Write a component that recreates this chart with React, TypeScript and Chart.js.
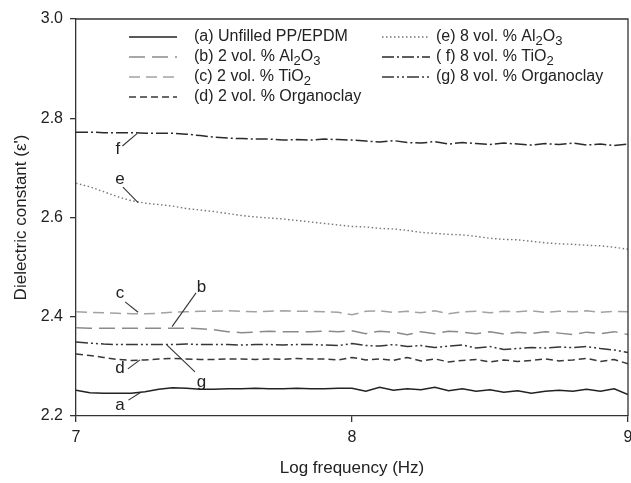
import React, { useEffect, useRef } from "react";
import { Chart, registerables } from "chart.js";

Chart.register(...registerables);

const LOG_FREQ = [
  7.0, 7.05, 7.1, 7.15, 7.2, 7.25, 7.3, 7.35, 7.4, 7.45, 7.5, 7.55, 7.6, 7.65, 7.7, 7.75, 7.8, 7.85, 7.9, 7.95,
  8.0, 8.05, 8.1, 8.15, 8.2, 8.25, 8.3, 8.35, 8.4, 8.45, 8.5, 8.55, 8.6, 8.65, 8.7, 8.75, 8.8, 8.85, 8.9, 8.95, 9.0,
];

const SERIES_A = [
  2.252, 2.247, 2.246, 2.246, 2.246, 2.249, 2.254, 2.257, 2.256, 2.254, 2.254, 2.255, 2.255, 2.256, 2.255, 2.255, 2.256, 2.255, 2.255, 2.256,
  2.256, 2.25, 2.258, 2.252, 2.255, 2.253, 2.258, 2.251, 2.255, 2.25, 2.253, 2.248, 2.251, 2.246, 2.25, 2.252, 2.25, 2.254, 2.25, 2.255, 2.243,
];
const SERIES_B = [
  2.378, 2.377, 2.377, 2.377, 2.377, 2.377, 2.377, 2.377, 2.377, 2.376, 2.374, 2.37, 2.368, 2.369, 2.371, 2.37, 2.37, 2.37, 2.371, 2.37,
  2.372, 2.366, 2.371, 2.369, 2.364, 2.37, 2.366, 2.371, 2.369, 2.366, 2.37, 2.365, 2.369, 2.366, 2.37, 2.367, 2.364, 2.369, 2.366, 2.37, 2.364,
];
const SERIES_C = [
  2.41, 2.409, 2.408, 2.407, 2.406, 2.406, 2.407, 2.409, 2.41, 2.411, 2.411, 2.412, 2.411, 2.41, 2.411, 2.412, 2.411, 2.411, 2.41, 2.409,
  2.404, 2.411, 2.412, 2.409, 2.411, 2.408, 2.412, 2.406, 2.41, 2.411, 2.408, 2.411, 2.41, 2.412, 2.409, 2.411, 2.41, 2.412, 2.409, 2.411, 2.41,
];
const SERIES_D = [
  2.325, 2.322, 2.318, 2.314, 2.312, 2.313, 2.315, 2.316, 2.315, 2.314, 2.314, 2.315, 2.315, 2.314, 2.315, 2.314, 2.316, 2.315, 2.315, 2.313,
  2.318, 2.313, 2.315, 2.312, 2.318, 2.311, 2.315, 2.309, 2.312, 2.314, 2.309, 2.313, 2.31, 2.312, 2.315, 2.311, 2.313, 2.316, 2.31, 2.314, 2.305,
];
const SERIES_E = [
  2.669, 2.662, 2.652, 2.642, 2.634, 2.629, 2.626, 2.623, 2.618, 2.615, 2.612, 2.608, 2.604, 2.601, 2.599, 2.597, 2.594, 2.591, 2.588, 2.585,
  2.582, 2.581, 2.578, 2.577, 2.574, 2.57, 2.568, 2.566, 2.565, 2.562, 2.558, 2.556, 2.555, 2.552, 2.549, 2.547, 2.546, 2.544, 2.543, 2.54, 2.536,
];
const SERIES_F = [
  2.772, 2.772, 2.771, 2.771, 2.771, 2.77, 2.77, 2.77, 2.768, 2.765, 2.762, 2.76, 2.759, 2.758, 2.758, 2.756, 2.757, 2.756, 2.758, 2.757,
  2.756, 2.754, 2.752, 2.755, 2.751, 2.75, 2.753, 2.748, 2.751, 2.749, 2.747, 2.75, 2.748, 2.746, 2.749, 2.747, 2.75, 2.746, 2.748, 2.745, 2.748,
];
const SERIES_G = [
  2.349, 2.347, 2.345, 2.344, 2.344, 2.344, 2.344, 2.344, 2.345, 2.344, 2.344, 2.344, 2.343, 2.344, 2.344, 2.343, 2.344, 2.344, 2.343, 2.342,
  2.346, 2.342, 2.341, 2.344, 2.34, 2.342, 2.338, 2.341, 2.343, 2.337, 2.34, 2.334, 2.336, 2.338, 2.337, 2.339, 2.338, 2.34, 2.336, 2.333, 2.328,
];

const LEGEND_LABELS = [
  "(a) Unfilled PP/EPDM",
  "(b) 2 vol. % Al_2O_3",
  "(c) 2 vol. % TiO_2",
  "(d) 2 vol. % Organoclay",
  "(e) 8 vol. % Al_2O_3",
  "( f) 8 vol. % TiO_2",
  "(g) 8 vol. % Organoclay",
];
const CURVE_LETTERS = ["a", "b", "c", "d", "e", "f", "g"];

const X_TICKS = [7, 8, 9];
const Y_TICKS = [2.2, 2.4, 2.6, 2.8, 3.0];

const FONT = '"Liberation Sans", Arial, Helvetica, sans-serif';

const STYLES = [
  { color: "#222222", dash: [] as number[], width: 1.5 },
  { color: "#8a8a8a", dash: [16, 7], width: 1.5 },
  { color: "#a2a2a2", dash: [11, 6], width: 1.5 },
  { color: "#383838", dash: [7, 4], width: 1.5 },
  { color: "#767676", dash: [1.5, 2.5], width: 1.4 },
  { color: "#2a2a2a", dash: [12, 3, 2, 3], width: 1.5 },
  { color: "#363636", dash: [12, 3, 2, 3, 2, 3], width: 1.5 },
];

// annotation placement (data coordinates): label position and leader line
const ANNOTATIONS = [
  { i: 0, tx: 7.159, ty: 2.222, x1: 7.19, y1: 2.232, x2: 7.235, y2: 2.248 },
  { i: 1, tx: 7.455, ty: 2.46, x1: 7.435, y1: 2.448, x2: 7.348, y2: 2.38 },
  { i: 2, tx: 7.159, ty: 2.448, x1: 7.178, y1: 2.43, x2: 7.225, y2: 2.409 },
  { i: 3, tx: 7.159, ty: 2.297, x1: 7.188, y1: 2.295, x2: 7.232, y2: 2.313 },
  { i: 4, tx: 7.159, ty: 2.676, x1: 7.17, y1: 2.661, x2: 7.225, y2: 2.63 },
  { i: 5, tx: 7.152, ty: 2.738, x1: 7.168, y1: 2.744, x2: 7.221, y2: 2.769 },
  { i: 6, tx: 7.455, ty: 2.268, x1: 7.431, y1: 2.289, x2: 7.33, y2: 2.343 },
];

// legend layout in canvas pixels
const LEGEND_POS = [
  { sx: 129, tx: 194, y: 37 },
  { sx: 129, tx: 194, y: 57 },
  { sx: 129, tx: 194, y: 77 },
  { sx: 129, tx: 194, y: 97 },
  { sx: 382, tx: 436, y: 37 },
  { sx: 382, tx: 436, y: 57 },
  { sx: 382, tx: 436, y: 77 },
];

function drawRich(ctx: CanvasRenderingContext2D, text: string, x: number, y: number, size: number) {
  const parts = text.split(/(_\d)/).filter((p) => p.length > 0);
  let cx = x;
  for (const p of parts) {
    if (p.startsWith("_")) {
      const t = p.slice(1);
      ctx.font = `${Math.round(size * 0.8)}px ${FONT}`;
      ctx.fillText(t, cx, y + size * 0.3);
      cx += ctx.measureText(t).width;
    } else {
      ctx.font = `${size}px ${FONT}`;
      ctx.fillText(p, cx, y);
      cx += ctx.measureText(p).width;
    }
  }
}

const overlayPlugin = {
  id: "overlay",
  afterDatasetsDraw(chart: any) {
    const { ctx, chartArea, scales } = chart;
    const xs = scales.x;
    const ys = scales.y;
    ctx.save();
    ctx.strokeStyle = "#333";
    ctx.lineWidth = 1.3;
    ctx.setLineDash([]);
    ctx.beginPath();
    ctx.moveTo(chartArea.left, chartArea.top);
    ctx.lineTo(chartArea.right, chartArea.top);
    ctx.lineTo(chartArea.right, chartArea.bottom);
    ctx.stroke();

    ctx.fillStyle = "#222";
    ctx.textAlign = "center";
    ctx.textBaseline = "middle";
    ctx.font = `17px ${FONT}`;
    ctx.lineWidth = 1.1;
    for (const a of ANNOTATIONS) {
      ctx.beginPath();
      ctx.moveTo(xs.getPixelForValue(a.x1), ys.getPixelForValue(a.y1));
      ctx.lineTo(xs.getPixelForValue(a.x2), ys.getPixelForValue(a.y2));
      ctx.strokeStyle = "#333";
      ctx.stroke();
      ctx.fillText(CURVE_LETTERS[a.i], xs.getPixelForValue(a.tx), ys.getPixelForValue(a.ty));
    }

    ctx.textAlign = "left";
    ctx.textBaseline = "middle";
    LEGEND_LABELS.forEach((label, i) => {
      const p = LEGEND_POS[i];
      const s = STYLES[i];
      ctx.beginPath();
      ctx.strokeStyle = s.color;
      ctx.lineWidth = s.width;
      ctx.setLineDash(s.dash);
      ctx.moveTo(p.sx, p.y);
      ctx.lineTo(p.sx + 48, p.y);
      ctx.stroke();
      ctx.setLineDash([]);
      ctx.fillStyle = "#222";
      drawRich(ctx, label, p.tx, p.y, 16);
    });
    ctx.restore();
  },
};

export default function App() {
  const ref = useRef<HTMLCanvasElement | null>(null);

  useEffect(() => {
    document.body.style.margin = "0";
    const series = [SERIES_A, SERIES_B, SERIES_C, SERIES_D, SERIES_E, SERIES_F, SERIES_G];
    const datasets = series.map((vals, i) => ({
      label: LEGEND_LABELS[i],
      data: vals.map((v, k) => ({ x: LOG_FREQ[k], y: v })),
      borderColor: STYLES[i].color,
      borderWidth: STYLES[i].width,
      borderDash: STYLES[i].dash,
      pointRadius: 0,
      tension: 0,
      fill: false,
    }));
    const chart = new Chart(ref.current!, {
      type: "line",
      data: { datasets },
      options: {
        animation: false,
        responsive: false,
        layout: { padding: { top: 19, right: 3, left: 0, bottom: 0 } },
        plugins: { legend: { display: false }, tooltip: { enabled: false } },
        scales: {
          x: {
            type: "linear",
            min: 7,
            max: 9,
            afterBuildTicks: (s: any) => {
              s.ticks = X_TICKS.map((v) => ({ value: v }));
            },
            afterFit: (s: any) => {
              s.height = 67;
              s.paddingLeft = 0;
              s.paddingRight = 0;
            },
            ticks: {
              color: "#222",
              font: { family: FONT, size: 16 },
              padding: 6,
              maxRotation: 0,
              callback: (v: any) => String(v),
            },
            grid: { drawOnChartArea: false, tickLength: 6, color: "#333", lineWidth: 1.3 },
            border: { color: "#333", width: 1.3 },
            title: {
              display: true,
              text: "Log frequency (Hz)",
              color: "#222",
              font: { family: FONT, size: 17 },
              padding: { top: 0, bottom: 4 },
            },
          },
          y: {
            type: "linear",
            min: 2.2,
            max: 3.0,
            afterBuildTicks: (s: any) => {
              s.ticks = Y_TICKS.map((v) => ({ value: v }));
            },
            afterFit: (s: any) => {
              s.width = 76;
              s.paddingTop = 0;
              s.paddingBottom = 0;
            },
            ticks: {
              color: "#222",
              font: { family: FONT, size: 16 },
              padding: 7,
              callback: (v: any) => Number(v).toFixed(1),
            },
            grid: { drawOnChartArea: false, tickLength: 6, color: "#333", lineWidth: 1.3 },
            border: { color: "#333", width: 1.3 },
            title: {
              display: true,
              text: "Dielectric constant (ε')",
              color: "#222",
              font: { family: FONT, size: 17 },
              padding: { top: 11, bottom: 0 },
            },
          },
        },
      },
      plugins: [overlayPlugin],
    });
    return () => chart.destroy();
  }, []);

  return (
    <div style={{ position: "absolute", left: 0, top: 0, width: 631, height: 483, background: "#fff" }}>
      <canvas ref={ref} width={631} height={483} style={{ width: 631, height: 483 }} />
    </div>
  );
}
